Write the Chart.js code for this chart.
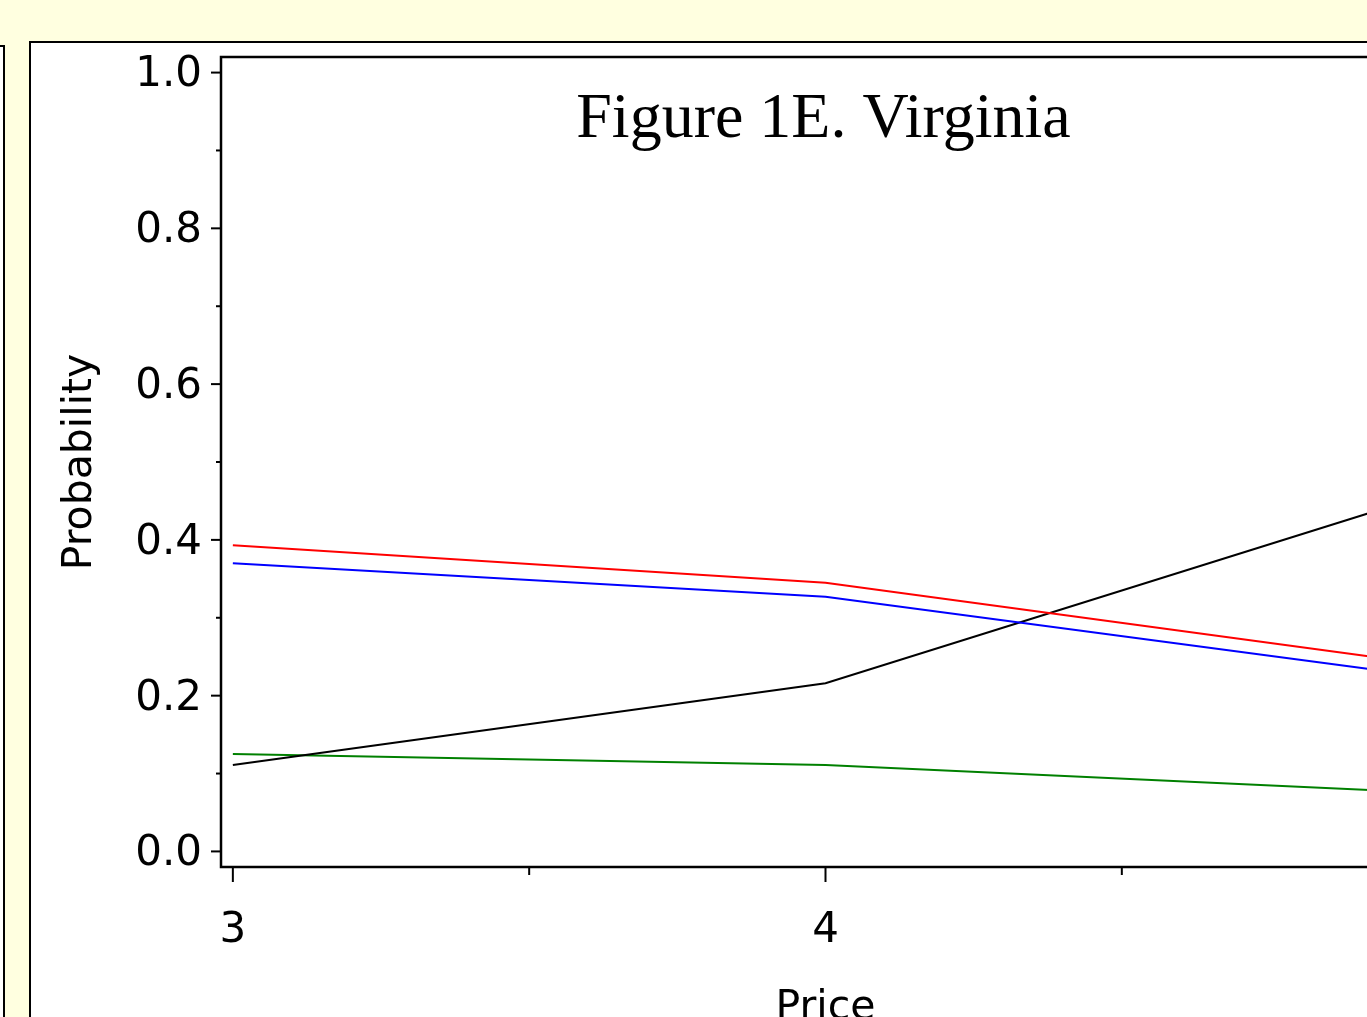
<!DOCTYPE html>
<html><head><meta charset="utf-8">
<script src="https://cdn.jsdelivr.net/npm/chart.js@4.4.1/dist/chart.umd.min.js"></script>
<style>
html,body{margin:0;padding:0;width:1367px;height:1017px;overflow:hidden;background:#FFFFE0;}
#left{position:absolute;left:-100px;top:45px;width:101px;height:1100px;background:#fff;border:2px solid #000;}
#main{position:absolute;left:29px;top:41px;width:1500px;height:1100px;background:#fff;border:2px solid #000;}
#wrap{position:absolute;left:0;top:0;width:1500px;height:1100px;}
canvas{display:block;}
</style></head><body>
<div id="left"></div><div id="main"></div>
<div id="wrap"><canvas id="c" width="1500" height="1100" style="width:1500px;height:1100px"></canvas></div>
<script>
// ---- data ----
const price = [3, 4, 5];
const probRed   = [0.393, 0.345, 0.242];
const probBlue  = [0.370, 0.327, 0.226];
const probBlack = [0.111, 0.216, 0.454];
const probGreen = [0.125, 0.111, 0.076];
const yTickValues = [0.0, 0.2, 0.4, 0.6, 0.8, 1.0];
const yMinorValues = [0.1, 0.3, 0.5, 0.7, 0.9];
const xTickValues = [3, 4, 5];
const xMinorValues = [3.5, 4.5];
const chartTitle = 'Figure 1E. Virginia';
const xTitle = 'Price';
const yTitle = 'Probability';

const pts = arr => price.map((p, i) => ({x: p, y: arr[i]}));
const ds = (label, arr, color) => ({label, data: pts(arr), borderColor: color, backgroundColor: color,
  borderWidth: 2, pointRadius: 0, tension: 0, fill: false});

const frame = {
  id: 'frame',
  afterDraw(chart) {
    const {ctx, chartArea: a, scales: {x, y}} = chart;
    ctx.save();
    ctx.strokeStyle = '#000';
    ctx.lineWidth = 2.5;
    ctx.strokeRect(a.left, a.top, a.right - a.left, a.bottom - a.top);
    ctx.lineWidth = 2;
    const seg = (x1, y1, x2, y2) => { ctx.beginPath(); ctx.moveTo(x1, y1); ctx.lineTo(x2, y2); ctx.stroke(); };
    yTickValues.forEach(v => { const p = y.getPixelForValue(v); seg(a.left - 10, p, a.left, p); });
    yMinorValues.forEach(v => { const p = y.getPixelForValue(v); seg(a.left - 5, p, a.left, p); });
    xTickValues.forEach(v => { const p = x.getPixelForValue(v); seg(p, a.bottom, p, a.bottom + 15); });
    xMinorValues.forEach(v => { const p = x.getPixelForValue(v); seg(p, a.bottom, p, a.bottom + 8); });
    ctx.fillStyle = '#000';
    ctx.font = '64px "Liberation Serif", "Times New Roman", serif';
    ctx.textAlign = 'center';
    ctx.textBaseline = 'alphabetic';
    ctx.fillText(chartTitle, (a.left + a.right) / 2 - 2, 137);
    ctx.restore();
  }
};

const tickFont = {family: 'DejaVu Sans', size: 42};
const titleFont = {family: 'DejaVu Sans', size: 41};
new Chart(document.getElementById('c'), {
  type: 'line',
  data: {datasets: [
    ds('Red', probRed, '#FF0000'),
    ds('Blue', probBlue, '#0000FF'),
    ds('Black', probBlack, '#000000'),
    ds('Green', probGreen, '#008000')
  ]},
  options: {
    responsive: false, animation: false, devicePixelRatio: 1,
    layout: {padding: {left: 0, top: 57, right: 70, bottom: 0}},
    plugins: {legend: {display: false}, tooltip: {enabled: false}, title: {display: false}},
    scales: {
      x: {
        type: 'linear', min: 2.98, max: 5.02,
        afterFit: s => { s.height = 233; },
        afterBuildTicks: s => { s.ticks = xTickValues.map(v => ({value: v})); },
        grid: {display: false, drawTicks: false},
        border: {display: false},
        ticks: {font: tickFont, color: '#000', padding: 39, maxRotation: 0, autoSkip: false,
          callback: v => String(v)},
        title: {display: true, text: xTitle, font: titleFont, color: '#000', padding: {top: 0, bottom: 67}}
      },
      y: {
        type: 'linear', min: -0.02, max: 1.02,
        afterFit: s => { s.width = 221; },
        afterBuildTicks: s => { s.ticks = yTickValues.map(v => ({value: v})); },
        grid: {display: false, drawTicks: false},
        border: {display: false},
        ticks: {font: tickFont, color: '#000', padding: 19, labelOffset: 3, autoSkip: false,
          callback: v => v.toFixed(1)},
        title: {display: true, text: yTitle, font: titleFont, color: '#000', padding: {top: 56, bottom: 0}}
      }
    }
  },
  plugins: [frame]
});
</script>
</body></html>
